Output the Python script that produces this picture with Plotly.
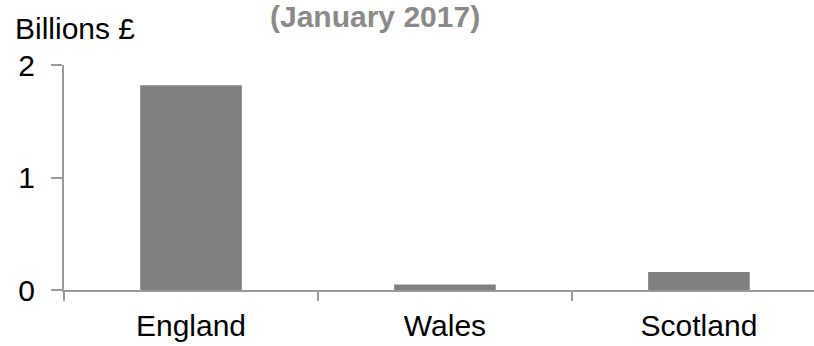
import plotly.graph_objects as go

# Values in billions of pounds
regions = ["England", "Wales", "Scotland"]
values = [1.82, 0.05, 0.16]
y_ticks = [0, 1, 2]

FONT = "Liberation Sans, Arial, sans-serif"
AXIS_GRAY = "#9a9a9a"
FS = 30

fig = go.Figure(
    go.Bar(
        x=regions,
        y=values,
        marker=dict(color="#808080", line=dict(width=0)),
        width=0.4,
    )
)

fig.update_layout(
    width=814,
    height=346,
    margin=dict(l=64, r=0, t=65, b=56),
    paper_bgcolor="white",
    plot_bgcolor="white",
    showlegend=False,
    font=dict(family=FONT, size=FS, color="black"),
)

fig.update_xaxes(
    range=[-0.5, 2.453],
    showline=True,
    linecolor=AXIS_GRAY,
    linewidth=2,
    ticks="outside",
    tickson="boundaries",
    ticklen=9,
    tickwidth=2,
    tickcolor=AXIS_GRAY,
    showgrid=False,
    tickfont=dict(size=FS, family=FONT),
    ticklabelstandoff=8,
)

fig.update_yaxes(
    range=[0, 2],
    tickvals=y_ticks,
    showline=True,
    linecolor=AXIS_GRAY,
    linewidth=2,
    ticks="outside",
    ticklen=11,
    tickwidth=2,
    tickcolor=AXIS_GRAY,
    showgrid=False,
    zeroline=False,
    tickfont=dict(size=FS, family=FONT),
    ticklabelstandoff=10,
)

fig.add_annotation(
    text="Billions £",
    xref="paper", yref="paper",
    x=-0.068, y=1.164,
    xanchor="left", yanchor="middle",
    showarrow=False,
    font=dict(size=FS, family=FONT, color="black"),
)

fig.add_annotation(
    text="<b>(January 2017)</b>",
    xref="paper", yref="paper",
    x=0.415, y=1.215,
    xanchor="center", yanchor="middle",
    showarrow=False,
    font=dict(size=FS, family=FONT, color="#8a8a8a"),
)

fig.write_html("out.html")
